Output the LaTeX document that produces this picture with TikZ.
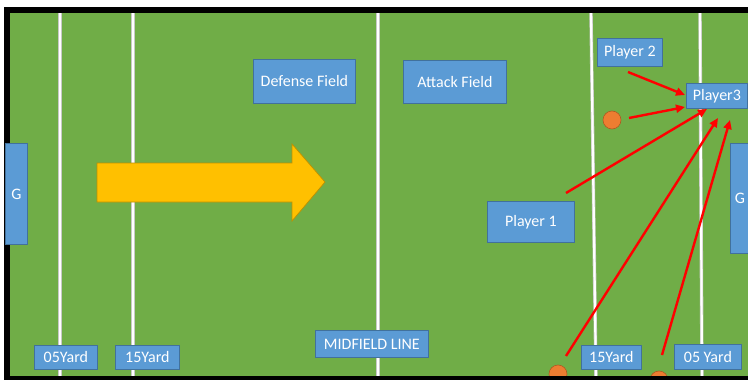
\documentclass[tikz,border=0pt]{standalone}
\usepackage{fontspec}
\setmainfont{Carlito}
\usetikzlibrary{arrows.meta}
\definecolor{fieldgreen}{HTML}{70AD47}
\definecolor{boxblue}{HTML}{5B9BD5}
\definecolor{boxedge}{HTML}{41719C}
\definecolor{ballorange}{HTML}{ED7D31}
\definecolor{balledge}{HTML}{AE5A21}
\definecolor{arrowyellow}{HTML}{FFC000}
\definecolor{arrowedge}{HTML}{BF9000}
\definecolor{linegray}{HTML}{C8C8C8}
\begin{document}
\begin{tikzpicture}[x=1pt,y=-1pt,
  lbl/.style={draw=boxedge, fill=boxblue, text=white, line width=0.8pt,
    inner sep=0pt, anchor=north west, font=\fontsize{16}{19}\selectfont},
  yardline/.style={line width=2.2pt, white},
  yardedge/.style={line width=3.4pt, linegray},
  ball/.style={circle, fill=ballorange, draw=balledge, line width=0.6pt,
    minimum size=18pt, inner sep=0pt},
  pass/.style={red, line width=2.4pt, -{Triangle[length=9pt,width=8pt]}, shorten >=0pt}]
\useasboundingbox (0,0) rectangle (748,380);
\clip (0,0) rectangle (748,380);
% field
\fill[white] (0,0) rectangle (748,380);
\fill[fieldgreen] (7,10) rectangle (760,379);
% yard lines
\foreach \a/\b/\c/\d in {60/9/60/380, 133/13/133/380, 378/13/378/380, 591/13/596/380, 700/13/702/380}{
  \draw[yardedge] (\a,\b) -- (\c,\d);
  \draw[yardline] (\a,\b) -- (\c,\d);
}
% balls at bottom (under border)
\node[ball] (b2) at (558,374) {};
\node[ball] (b3) at (659,380) {};
% border
\draw[black, line width=6pt] (7,10) rectangle (760,379);
% yellow arrow
\draw[fill=arrowyellow, draw=arrowedge, line width=0.7pt]
  (97,163) -- (292,163) -- (292,144) -- (325,182) -- (292,221) -- (292,202) -- (97,202) -- cycle;
% boxes
\node[lbl, minimum width=22pt, minimum height=101pt] (gl) at (5,143) {G};
\node[lbl, minimum width=19pt, minimum height=110pt] (gr) at (730,143) {G};
\node[lbl, minimum width=63pt, minimum height=24pt] (y05l) at (34,345) {05Yard};
\node[lbl, minimum width=64pt, minimum height=24pt] (y15l) at (115,345) {15Yard};
\node[lbl, minimum width=102pt, minimum height=44pt] (def) at (253,59) {Defense Field};
\node[lbl, minimum width=103pt, minimum height=43pt] (att) at (403,60) {Attack Field};
\node[lbl, minimum width=113pt, minimum height=27pt] (mid) at (315,330) {MIDFIELD LINE};
\node[lbl, minimum width=65pt, minimum height=28pt] (p2) at (597,38) {Player 2};
\node[lbl, minimum width=61pt, minimum height=25pt] (p3) at (686,83) {Player3};
\node[lbl, minimum width=87pt, minimum height=41pt] (p1) at (487,201) {Player 1};
\node[lbl, minimum width=60pt, minimum height=24pt] (y15r) at (581,345) {15Yard};
\node[lbl, minimum width=67pt, minimum height=25pt] (y05r) at (674,344) {05 Yard};
% ball near player 3
\node[ball] (b1) at (612,120) {};
% passes
\coordinate (s2) at (628,72);
\coordinate (t2) at (685,95);
\coordinate (sb1) at (629,118);
\coordinate (tb1) at (685,107);
\coordinate (s1) at (566,193);
\coordinate (t1) at (707,109);
\coordinate (sb2) at (566,356);
\coordinate (tb2) at (718,118);
\coordinate (sb3) at (662,355);
\coordinate (tb3) at (730,120);
\draw[pass] (s2) -- (t2);
\draw[pass] (sb1) -- (tb1);
\draw[pass] (s1) -- (t1);
\draw[pass] (sb2) -- (tb2);
\draw[pass] (sb3) -- (tb3);
\end{tikzpicture}
\end{document}
